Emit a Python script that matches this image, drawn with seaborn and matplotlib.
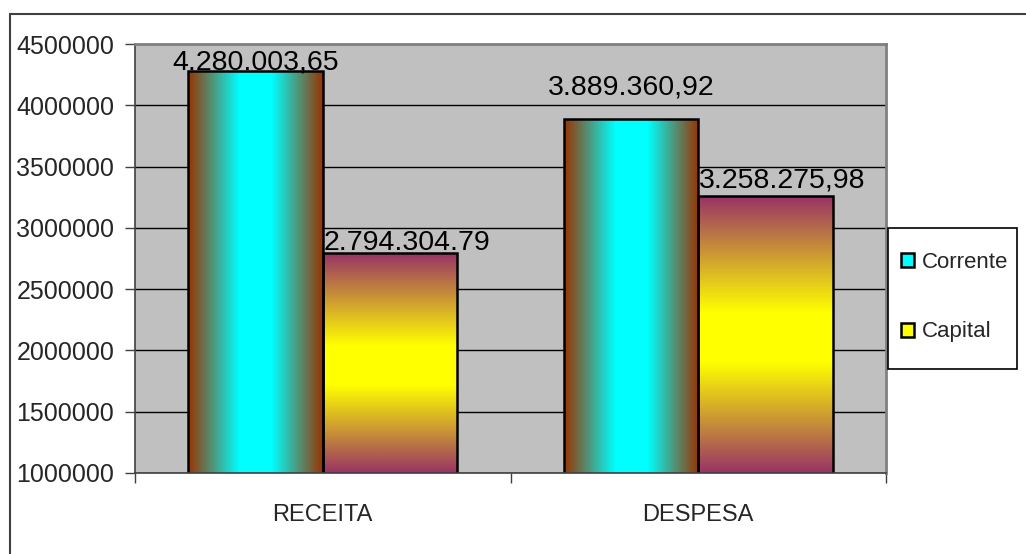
import numpy as np
import pandas as pd
import matplotlib
matplotlib.use('Agg')
import matplotlib.pyplot as plt
import seaborn as sns
from matplotlib.colors import LinearSegmentedColormap
from matplotlib.patches import Patch, Rectangle

# dados
categorias = ['RECEITA', 'DESPESA']
series = ['Corrente', 'Capital']
corrente = [4280003.65, 3889360.92]
capital = [2794304.79, 3258275.98]
rotulos_corrente = ['4.280.003,65', '3.889.360,92']
rotulos_capital = ['2.794.304.79', '3.258.275,98']
yticks = [1000000, 1500000, 2000000, 2500000, 3000000, 3500000, 4000000, 4500000]

df = pd.DataFrame({
    'categoria': categorias * 2,
    'serie': [series[0]] * 2 + [series[1]] * 2,
    'valor': corrente + capital,
})

sns.set_style('white')
plt.rcParams['font.family'] = ['Liberation Sans', 'DejaVu Sans']

W, H = 1026, 554
fig = plt.figure(figsize=(W / 100, H / 100), dpi=100)
ax = fig.add_axes([135 / W, 1 - 473 / H, (886 - 135) / W, (473 - 44) / H])

# moldura externa
fig.patches.append(Rectangle((10 / W, -0.05), 1.2, 1 - 14 / H + 0.05,
                             transform=fig.transFigure, fill=False,
                             edgecolor='#404040', linewidth=1.5))

sns.barplot(data=df, x='categoria', y='valor', hue='serie', order=categorias,
            hue_order=series, width=0.716, gap=0, ax=ax, legend=False,
            edgecolor='black', linewidth=1.8)

ymin, ymax = yticks[0], yticks[-1]

# gradientes
cmap_corr = LinearSegmentedColormap.from_list(
    'corr', [(0, '#993300'), (0.38, '#00FFFF'), (0.62, '#00FFFF'), (1, '#993300')])
cmap_cap = LinearSegmentedColormap.from_list(
    'cap', [(0, '#993366'), (0.42, '#FFFF00'), (0.6, '#FFFF00'), (1, '#993366')])
grad = np.linspace(0, 1, 256)

for cont, cmap, horiz in [(ax.containers[0], cmap_corr, True),
                          (ax.containers[1], cmap_cap, False)]:
    for bar in cont:
        x0 = bar.get_x()
        x1 = x0 + bar.get_width()
        y1 = bar.get_height()
        arr = grad[None, :] if horiz else grad[:, None]
        im = ax.imshow(arr, extent=[x0, x1, ymin, y1], aspect='auto', cmap=cmap,
                       zorder=bar.get_zorder() - 0.1, interpolation='bilinear')
        im.set_clip_path(bar)
        bar.set_facecolor('none')

ax.set_xlim(-0.5, len(categorias) - 0.5)
ax.set_ylim(ymin, ymax)

# rótulos de dados (deslocamentos em pixels)
desloc = [[(0, 1), (0, 24)], [(17, 3), (17, 9)]]
for i, (cont, rot) in enumerate([(ax.containers[0], rotulos_corrente),
                                 (ax.containers[1], rotulos_capital)]):
    for j, bar in enumerate(cont):
        dx, dy = desloc[i][j]
        ax.annotate(rot[j], (bar.get_x() + bar.get_width() / 2, bar.get_height()),
                    xytext=(dx * 0.72, dy * 0.72), textcoords='offset points',
                    ha='center', va='baseline', fontsize=20.5, color='black')

# fundo e grade
ax.set_facecolor('#C0C0C0')
ax.set_axisbelow(True)
ax.yaxis.grid(True, color='black', linewidth=1)
ax.set_yticks(yticks)
ax.set_yticklabels([str(v) for v in yticks], fontsize=18)
ax.tick_params(axis='y', length=7, width=1, color='#404040', pad=8, left=True)
ax.set_xticks(range(len(categorias)))
ax.set_xticklabels(categorias, fontsize=17)
ax.tick_params(axis='x', which='major', length=0, pad=22)
ax.set_xticks([-0.5, 0.5, 1.5], minor=True)
ax.tick_params(axis='x', which='minor', length=7, width=1, color='#404040', bottom=True)
ax.set_xlabel('')
ax.set_ylabel('')

for s in ['top', 'right']:
    ax.spines[s].set_color('#808080')
    ax.spines[s].set_linewidth(2)
ax.spines['left'].set_color('#404040')
ax.spines['bottom'].set_color('#404040')
ax.spines['left'].set_linewidth(1.2)
ax.spines['bottom'].set_linewidth(1.2)

# legenda
fig.patches.append(Rectangle((888 / W, 1 - 369 / H), (1017 - 888) / W, (369 - 228) / H,
                             transform=fig.transFigure, facecolor='white',
                             edgecolor='black', linewidth=1.2, zorder=3))
handles = [Patch(facecolor='#00FFFF', edgecolor='black', linewidth=1.8),
           Patch(facecolor='#FFFF00', edgecolor='black', linewidth=1.8)]
leg = fig.legend(handles, series, loc='center left',
                 bbox_to_anchor=(896.5 / W, 1 - 297 / H), borderaxespad=0,
                 fontsize=16, frameon=False, handlelength=0.6,
                 handleheight=0.6, handletextpad=0.35, labelspacing=2.2,
                 borderpad=0.2)
leg.set_zorder(4)

fig.savefig('out.png', dpi=100)
